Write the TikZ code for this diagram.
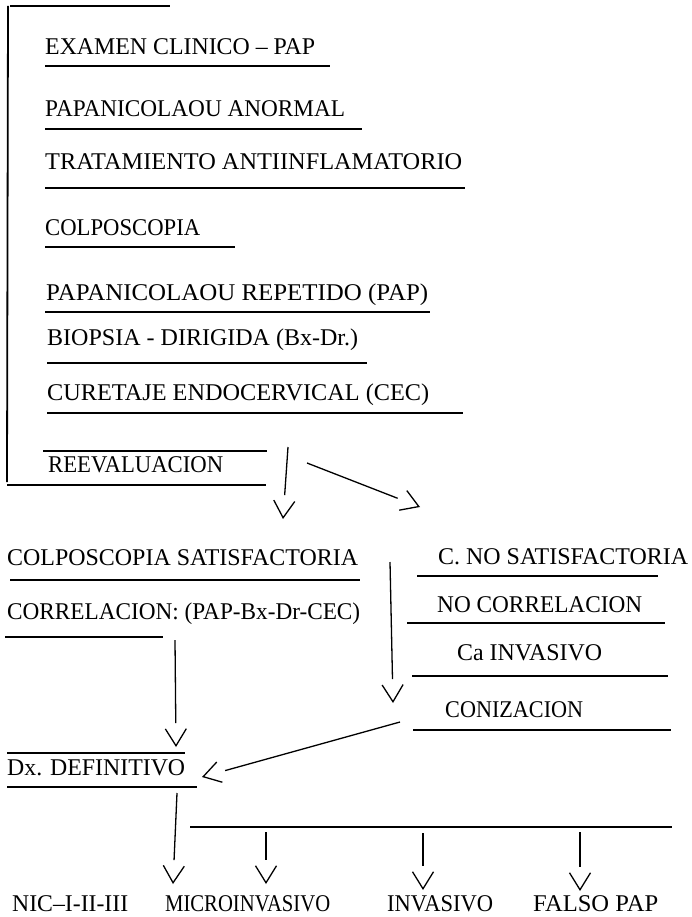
\documentclass[tikz,border=0pt]{standalone}
\usepackage{fontspec}
\setmainfont{Liberation Serif}
\usepackage{graphicx}
\usetikzlibrary{arrows.meta,calc}
\newcommand{\fitto}[2]{\resizebox{#1pt}{\height}{#2}}
\newcommand{\varrow}[2]{%
  \draw[shaft] (#1) -- ($(#2)!24pt!(#1)$);
  \draw[tipst] ($(#2)!2pt!(#1)$) -- (#2);}
\begin{document}
\begin{tikzpicture}[x=1pt,y=-1pt,
  lbl/.style={anchor=base west,inner sep=0pt,font=\fontsize{24}{26}\selectfont},
  rule/.style={line width=1.8pt},
  shaft/.style={line width=1.3pt},
  tipst/.style={line width=1.3pt,-{Straight Barb[length=17pt,width=21pt,line width=1.3pt]}}]
\useasboundingbox (0,0) rectangle (691,917);
% labels
\node[lbl] (t1) at (45,54.5) {\fitto{270}{EXAMEN CLINICO -- PAP}};
\node[lbl] (t2) at (45,116.5) {\fitto{300}{PAPANICOLAOU ANORMAL}};
\node[lbl] (t3) at (45,169.5) {\fitto{417}{TRATAMIENTO ANTIINFLAMATORIO}};
\node[lbl] (t4) at (45,235.5) {\fitto{155}{COLPOSCOPIA}};
\node[lbl] (t5) at (46,300.5) {\fitto{382}{PAPANICOLAOU REPETIDO (PAP)}};
\node[lbl] (t6) at (47,345.5) {\fitto{311}{BIOPSIA - DIRIGIDA (Bx-Dr.)}};
\node[lbl] (t7) at (47,400.5) {\fitto{382}{CURETAJE ENDOCERVICAL (CEC)}};
\node[lbl] (t8) at (48,472.5) {\fitto{175}{REEVALUACION}};
\node[lbl] (t9) at (7,565.5) {\fitto{351}{COLPOSCOPIA SATISFACTORIA}};
\node[lbl] (t10) at (7,619.5) {\fitto{353}{CORRELACION: (PAP-Bx-Dr-CEC)}};
\node[lbl] (t11) at (438,564.5) {\fitto{250}{C. NO SATISFACTORIA}};
\node[lbl] (t12) at (437,612.5) {\fitto{205}{NO CORRELACION}};
\node[lbl] (t13) at (457,660.5) {\fitto{145}{Ca INVASIVO}};
\node[lbl] (t14) at (445,717.5) {\fitto{138}{CONIZACION}};
\node[lbl] (t15) at (7,775.5) {\fitto{178}{Dx. DEFINITIVO}};
\node[lbl] (t16) at (12,911) {\fitto{116}{NIC--I-II-III}};
\node[lbl] (t17) at (165,911) {\fitto{165}{MICROINVASIVO}};
\node[lbl] (t18) at (387,911) {\fitto{106}{INVASIVO}};
\node[lbl] (t19) at (533,911) {\fitto{125}{FALSO PAP}};
% bracket
\draw[rule] (10,6) -- (170,6);
\draw[rule] (8,6) -- (7,482);
% rules under/over labels
\draw[rule] (45,66) -- (330,66);
\draw[rule] (45,129) -- (362,129);
\draw[rule] (45,188) -- (465,188);
\draw[rule] (45,247) -- (235,247);
\draw[rule] (45,312) -- (430,312);
\draw[rule] (47,363) -- (367,363);
\draw[rule] (47,413) -- (463,413);
\draw[rule] (43,451) -- (267,451);
\draw[rule] (7,485) -- (266,485);
\draw[rule] (10,580) -- (360,580);
\draw[rule] (5,637) -- (163,637);
\draw[rule] (417,576) -- (658,576);
\draw[rule] (407,623) -- (665,623);
\draw[rule] (412,676) -- (668,676);
\draw[rule] (413,730) -- (671,730);
\draw[rule] (7,753) -- (185,753);
\draw[rule] (7,787) -- (197,787);
\draw[rule] (190,827) -- (672,827);
% arrow endpoints
\coordinate (a1s) at (288,447); \coordinate (a1e) at (283,519);
\coordinate (a2s) at (307,463); \coordinate (a2e) at (420,507);
\coordinate (a3s) at (390,562); \coordinate (a3e) at (393,703);
\coordinate (a4s) at (175,640); \coordinate (a4e) at (176,747);
\coordinate (a5s) at (400,722); \coordinate (a5e) at (202,777);
\coordinate (a6s) at (177,793); \coordinate (a6e) at (173,884);
\coordinate (a7s) at (266,832); \coordinate (a7e) at (266,884);
\coordinate (a8s) at (423,833); \coordinate (a8e) at (423,890);
\coordinate (a9s) at (580,832); \coordinate (a9e) at (580,891);
\varrow{a1s}{a1e}
\varrow{a2s}{a2e}
\varrow{a3s}{a3e}
\varrow{a4s}{a4e}
\varrow{a5s}{a5e}
\varrow{a6s}{a6e}
\varrow{a7s}{a7e}
\varrow{a8s}{a8e}
\varrow{a9s}{a9e}
\end{tikzpicture}
\end{document}
